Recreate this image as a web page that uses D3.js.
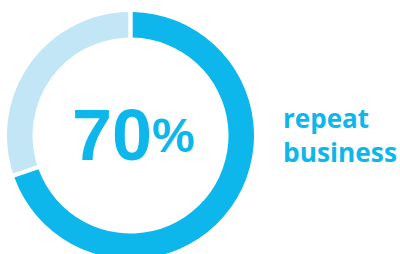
<!DOCTYPE html>
<html>
<head>
<meta charset="utf-8">
<script src="https://cdn.jsdelivr.net/npm/d3@7"></script>
<style>
  html, body { margin: 0; padding: 0; background: #fff; }
  svg { display: block; }
</style>
</head>
<body>
<div id="chart"></div>
<script>
// chart values
const labels = ["repeat", "other"];
const values = [70, 30];
const colors = ["#0db7eb", "#c3e6f7"];
const centerNumber = "70";
const centerUnit = "%";
const captionLines = ["repeat", "business"];
const captionWidths = [86, 114]; // measured widths of each caption line

const width = 400, height = 254;
const cx = 130.5, cy = 135.5;
const outerR = 123.5, innerR = 98;

const svg = d3.select("#chart").append("svg")
    .attr("width", width)
    .attr("height", height);

const g = svg.append("g")
    .attr("transform", `translate(${cx},${cy})`);

// clockwise from the top, no sorting
const pie = d3.pie().sort(null).value(d => d).padAngle(0.04);
const arc = d3.arc().innerRadius(innerR).outerRadius(outerR).padRadius(110);

g.selectAll("path.slice")
    .data(pie(values))
    .join("path")
    .attr("class", "slice")
    .attr("d", arc)
    .attr("fill", (d, i) => colors[i]);

// big number in the middle, smaller raised percent sign
const big = g.append("text")
    .attr("x", -58.5)
    .attr("y", 24.5)
    .style("font-family", "'Liberation Sans', Arial, sans-serif")
    .style("font-weight", 700)
    .style("font-size", "72px")
    .style("fill", colors[0]);

big.append("tspan").text(centerNumber);
big.append("tspan")
    .attr("dy", -8)
    .style("font-size", "48px")
    .text(centerUnit);

// caption on the right
svg.append("g")
    .selectAll("text")
    .data(captionLines)
    .join("text")
    .attr("x", 283)
    .attr("y", (d, i) => 128 + i * 34)
    .attr("textLength", (d, i) => captionWidths[i])
    .attr("lengthAdjust", "spacingAndGlyphs")
    .style("font-family", "'Open Sans', sans-serif")
    .style("font-weight", 700)
    .style("font-size", "27px")
    .style("fill", colors[0])
    .text(d => d);
</script>
</body>
</html>
